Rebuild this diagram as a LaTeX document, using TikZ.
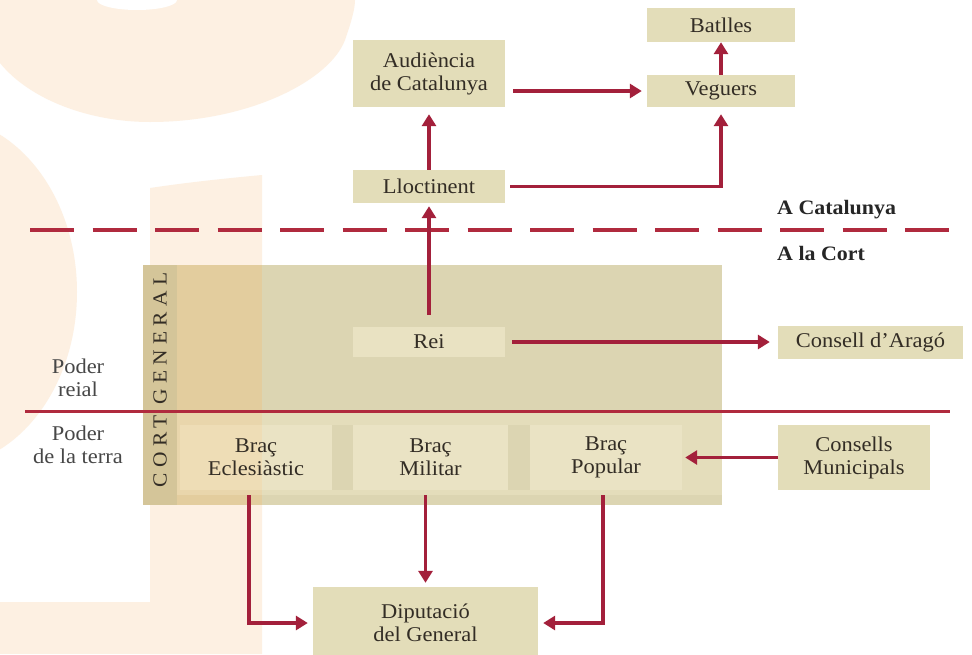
\documentclass[tikz,border=0pt]{standalone}
\usepackage{fontspec}
\setmainfont{Liberation Serif}[FakeStretch=1.07]
\usetikzlibrary{arrows.meta,calc}
\definecolor{peach}{HTML}{FDF0E2}
\definecolor{cortcol}{HTML}{DCD5B2}
\definecolor{cortband}{HTML}{E3CD9E}
\definecolor{stripcol}{HTML}{D4C599}
\definecolor{lowband}{HTML}{E4DDBB}
\definecolor{lowbandp}{HTML}{E9D6AC}
\definecolor{braccol}{HTML}{EAE3C4}
\definecolor{bracp}{HTML}{EEDDB6}
\definecolor{topcol}{HTML}{E3DDB9}
\definecolor{reicol}{HTML}{E9E2C2}
\definecolor{arrred}{HTML}{A3203B}
\definecolor{linered}{HTML}{B02A3E}
\definecolor{txt}{HTML}{332D25}
\begin{document}
\begin{tikzpicture}[x=1pt,y=-1pt,
  every node/.style={text=txt, font=\fontsize{21}{23}\selectfont, inner sep=0pt, align=center},
  tbox/.style={fill=topcol},
  bbox/.style={fill=braccol, minimum height=65pt},
  arr/.style={draw=arrred, line width=3.6pt, -{Triangle[length=12pt,width=14pt]}},
  redline/.style={draw=linered}
]
\useasboundingbox (0,0) rectangle (972,654);
\fill[white] (0,0) rectangle (972,654);
% background decoration
\fill[peach] (0,0) -- (0,63) .. controls (30,100) and (90,122) .. (150,122) .. controls (250,122) and (330,80) .. (345,40) .. controls (352,20) and (355,8) .. (355,0) -- cycle;
\fill[white] (137,0) ellipse [x radius=40, y radius=10];
\fill[peach] (-60,292) ellipse [x radius=137, y radius=175];
\fill[peach] (150,188) .. controls (190,182) and (230,178) .. (262,175) -- (262,654) -- (150,654) -- cycle;
\fill[peach] (0,602) rectangle (262,654);
% cort general frame
\fill[cortcol] (143,265) rectangle (722,505);
\fill[cortband] (177,265) rectangle (262,505);
\fill[lowband] (177,413) rectangle (722,495);
\fill[lowbandp] (177,413) rectangle (262,495);
\fill[cortcol] (332,425) rectangle (353,490);
\fill[cortcol] (508,425) rectangle (530,490);
\fill[stripcol] (143,265) rectangle (177,505);
% separator lines
\coordinate (dl) at (30,230); \coordinate (dr) at (950,230);
\draw[redline, line width=3.5pt, dash pattern=on 44pt off 18.5pt] (dl) -- (dr);
\coordinate (sl) at (25,411); \coordinate (sr) at (950,411);
\draw[redline, line width=3pt] (sl) -- (sr);
% nodes
\node[tbox, minimum width=152pt, minimum height=67pt] (aud) at (429,73.5) {Audiència\\de Catalunya};
\node[tbox, minimum width=148pt, minimum height=34pt] (bat) at (721,25) {Batlles};
\node[tbox, minimum width=148pt, minimum height=32pt] (veg) at (721,91) {Veguers};
\node[tbox, minimum width=152pt, minimum height=33pt] (llo) at (429,186.5) {Lloctinent};
\node[fill=reicol, minimum width=152pt, minimum height=30pt] (rei) at (429,342) {Rei};
\node[tbox, minimum width=185pt, minimum height=33pt] (ara) at (870.5,342) {Consell d’Aragó};
\node[bbox, minimum width=152pt, path picture={\fill[bracp] (path picture bounding box.north west) rectangle ($(path picture bounding box.south west)+(82,0)$);}] (ecl) at (256,457.5) {Braç\\Eclesiàstic};
\node[bbox, minimum width=155pt] (mil) at (430.5,457.5) {Braç\\Militar};
\node[bbox, minimum width=152pt] (pop) at (606,457.5) {Braç\\Popular};
\node[tbox, minimum width=152pt, minimum height=65pt] (mun) at (854,457.5) {Consells\\Municipals};
\node[tbox, minimum width=225pt, minimum height=72pt] (dip) at (425.5,623) {Diputació\\del General};
% labels
\node[rotate=90, font=\fontsize{20}{22}\selectfont] (cg) at (160,380) {\addfontfeature{LetterSpace=27}CORT GENERAL};
\node[anchor=west, text=black!85, font=\bfseries\fontsize{20.5}{23}\selectfont] (acat) at (777,210) {A Catalunya};
\node[anchor=west, text=black!85, font=\bfseries\fontsize{20.5}{23}\selectfont] (acort) at (777,253) {A la Cort};
\node[text=black!72] (preial) at (78,378) {Poder\\reial};
\node[text=black!72] (pterra) at (78,445) {Poder\\de la terra};
% arrows
\draw[arr, shorten >=7pt] (llo.north) -- (aud.south);
\draw[arr, shorten <=8pt, shorten >=5pt] (aud.east |- veg.west) -- (veg.west);
\draw[arr] (veg.north) -- (bat.south);
\draw[arr, shorten <=5pt, shorten >=7pt] (llo.east) -| (veg.south);
\draw[arr, shorten <=12pt, shorten >=3pt] (rei.north) -- (llo.south);
\draw[arr, shorten <=7pt, shorten >=8pt] (rei.east) -- (ara.west);
\draw[arr, shorten >=3pt] (mun.west) -- (pop.east);
\draw[arr, shorten <=5pt, shorten >=5pt] ([xshift=-7pt]ecl.south) |- (dip.west);
\draw[arr, shorten <=5pt, shorten >=4pt] (mil.south -| dip.north) -- (dip.north);
\draw[arr, shorten <=5pt, shorten >=5pt] ([xshift=-3pt]pop.south) |- (dip.east);
\end{tikzpicture}
\end{document}
